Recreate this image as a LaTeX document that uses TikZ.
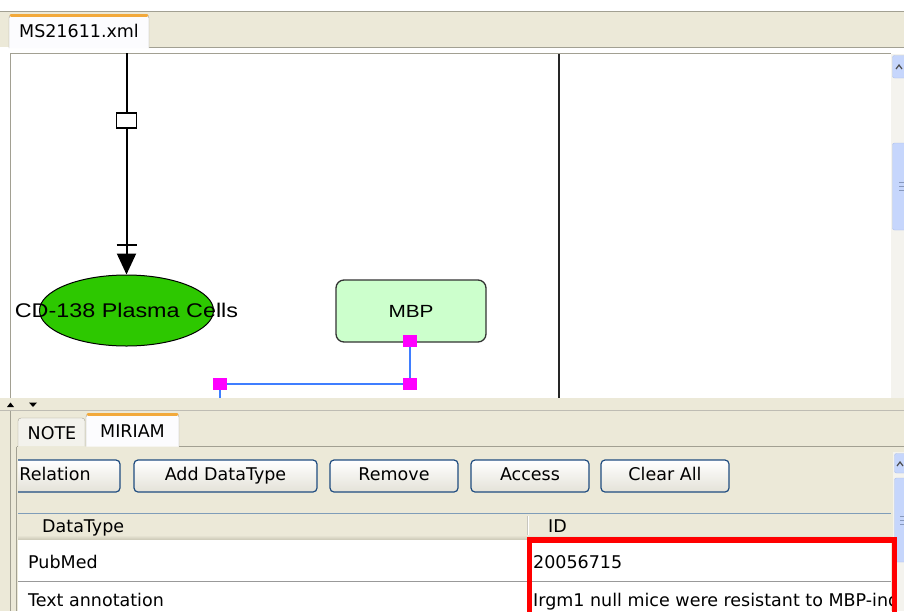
\documentclass[tikz,border=0pt]{standalone}
\usepackage{fontspec}
\setmainfont{DejaVu Sans}
\newfontfamily\diagfont[FakeStretch=1.18]{Liberation Sans}
\usetikzlibrary{arrows.meta}
\usetikzlibrary{calc,shapes.geometric}
\usetikzlibrary{positioning}
\definecolor{xpbeige}{HTML}{ECE9D8}
\definecolor{xpgray}{HTML}{A2A092}
\definecolor{xpborder}{HTML}{1F4C80}
\definecolor{tabtop}{HTML}{F2A93B}
\definecolor{tabwhite}{HTML}{FCFCFE}
\definecolor{tabgray}{HTML}{F3F2EC}
\definecolor{btnshade}{HTML}{E4E2D8}
\definecolor{headshade}{HTML}{C9C6B4}
\definecolor{cellgreen}{HTML}{2DC800}
\definecolor{mbpgreen}{HTML}{CCFFCC}
\definecolor{handlemag}{HTML}{FF00FF}
\definecolor{linkblue}{HTML}{3F7EFF}
\definecolor{scrollblue}{HTML}{C6D6FC}
\definecolor{scrolledge}{HTML}{A9BEEB}
\definecolor{track}{HTML}{F4F3EE}
\definecolor{gridline}{HTML}{7F9DB9}
\newcommand\uifont{\fontsize{17.5}{21}\selectfont}
\tikzset{>=latex}
\tikzset{
  uitext/.style={font=\uifont,inner sep=0pt,anchor=base west},
  tab/.style={draw=xpgray,fill=tabwhite,rounded corners=3pt},
  button/.style={draw=xpborder,line width=1.2pt,rounded corners=4pt,
                 top color=white,bottom color=btnshade,font=\uifont,
                 text height=12pt,text depth=3.5pt,minimum height=32pt,inner sep=0pt},
  scroll/.style={draw=scrolledge,fill=scrollblue,rounded corners=2pt},
  procbox/.style={draw,fill=white,line width=1.5pt,minimum width=20pt,
                  minimum height=15pt,inner sep=0pt},
  species/.style={ellipse,draw,fill=cellgreen,line width=1pt,
                  minimum width=174pt,minimum height=71pt,inner sep=0pt},
  specieslabel/.style={font=\diagfont\fontsize{19.8}{24}\selectfont,inner sep=0pt},
  protein/.style={draw=black!80,fill=mbpgreen,line width=1.3pt,rounded corners=8pt,
                  minimum width=150pt,minimum height=62pt,
                  font=\diagfont\fontsize{17.6}{21}\selectfont},
  handle/.style={fill=handlemag,minimum width=14pt,minimum height=12pt,inner sep=0pt},
  link/.style={linkblue,line width=1.6pt},
  reaction/.style={line width=2pt}
}

\begin{document}
\begin{tikzpicture}[x=1pt,y=-1pt]
  \useasboundingbox (0,0) rectangle (904,611);

  % WINDOW
  \fill[white] (0,0) rectangle (904,611);
  \fill[xpbeige] (0,11) rectangle (904,47);
  \draw[xpgray] (0,11.5) -- (904,11.5);
  \draw[xpgray] (149,47.5) -- (904,47.5);

  % EDITOR TAB
  \draw[tab] (9,48) |- (149,15) -- (149,48);
  \draw[tabtop,line width=3pt,line cap=round] (11,15.5) -- (147,15.5);
  \node[uitext,anchor=base] (xmltab) at (79,37) {MS21611.xml};

  % CANVAS
  \draw[xpgray] (10.5,398) |- (891,53.5);
  \draw[black!85,line width=2.2pt] (559,54) -- (559,398);
  \fill[track] (891,54) rectangle (904,398);
  \draw[scroll] (892.5,55.5) rectangle (910,78);
  \draw[scroll] (892.5,143) rectangle (910,230);
  \draw[black!70,line width=1.2pt] (896,69) -- (899,65) -- (902,69);
  \foreach \y in {182,186,190}
    \draw[scrolledge!80!black] (899,\y) -- (904,\y);

  % REACTION
  \coordinate (src) at (126.5,53);
  \node[procbox] (proc) at (126.5,120.5) {};
  \node[species] (cells) at (126.5,310.5) {};
  \node[specieslabel] (cellsname) at (cells.center) {CD-138 Plasma Cells};
  \draw[reaction] (src) -- (proc);
  \draw[reaction,-{Triangle[width=19pt,length=21pt]}] (proc) -- (cells);
  \draw[reaction] ($(cells.north)+(-10,-30)$) -- ++(20,0);

  % MBP AND ITS LINK
  \node[protein] (mbp) at (411,311) {MBP};
  \coordinate (ha) at (410,341);
  \coordinate (hb) at (410,384);
  \coordinate (hc) at (220,384);
  \coordinate (hd) at (220,400);
  \draw[link] (ha) -- (hb) -- (hc) -- (hd);
  \foreach \c in {ha,hb,hc}
    \node[handle] at (\c) {};

  % LOWER PANEL
  \fill[xpbeige] (0,398) rectangle (904,611);
  \fill (7,407) -- (14,407) -- (10.5,402.5) -- cycle;
  \fill (29,402.5) -- (37,402.5) -- (33,407) -- cycle;
  \draw[xpgray!70] (0,410.5) -- (904,410.5);
  \draw[xpgray] (10.5,411) -- (10.5,611);

  \draw[tab,fill=tabgray] (18,446) |- (85,418) -- (85,446);
  \node[uitext,anchor=base] (notetab) at (52,439) {NOTE};
  \draw[tab] (86,446.5) |- (179,414) -- (179,446.5);
  \draw[tabtop,line width=3pt,line cap=round] (88,414.5) -- (177,414.5);
  \node[uitext,anchor=base] (miriamtab) at (132.5,437) {MIRIAM};
  \draw[xpgray] (179,446.5) -- (904,446.5);
  \draw[xpgray] (16.5,446.5) -- (18,446.5);
  \draw[xpgray] (16.5,446.5) -- (16.5,611);

  % BUTTONS
  \begin{scope}
    \clip (18,450) rectangle (891,500);
    \node[button,minimum width=130pt] (relbtn)   at (55,476)    {Relation};
    \node[button,minimum width=183pt] (addbtn)   at (225.5,476) {Add DataType};
    \node[button,minimum width=128pt] (rembtn)   at (394,476)   {Remove};
    \node[button,minimum width=118pt] (accbtn)   at (530,476)   {Access};
    \node[button,minimum width=128pt] (clearbtn) at (665,476)   {Clear All};
  \end{scope}
  \fill[track] (893,452) rectangle (904,611);
  \draw[scroll] (894.5,453.5) rectangle (910,473);
  \draw[scroll] (894.5,478) rectangle (910,562);
  \draw[black!70,line width=1.2pt] (897,466) -- (900,462) -- (903,466);
  \foreach \y in {516,520,524}
    \draw[scrolledge!80!black] (900,\y) -- (904,\y);

  % TABLE
  \draw[gridline] (18,513.5) -- (891,513.5);
  \shade[top color=xpbeige,bottom color=headshade] (18,535) rectangle (891,540);
  \draw[xpgray!60] (527,516) -- (527,535);
  \draw[white] (528,516) -- (528,535);
  \node[uitext] (dthead) at (42,532) {DataType};
  \node[uitext] (idhead) at (548,532) {ID};
  \fill[white] (18,540) rectangle (891,611);
  \draw[gray!80] (18,581.5) -- (891,581.5);
  \node[uitext] (pubmed) at (28,568) {PubMed};
  \node[uitext] (pmid)   at (533,568) {20056715};
  \node[uitext] (txtann) at (28,606) {Text annotation};
  \begin{scope}
    \clip (528,582) rectangle (892,611);
    \node[uitext] (annot) at (533,606) {Irgm1 null mice were resistant to MBP-induced};
  \end{scope}
  \draw[red,line width=5.5pt] (529.5,540) rectangle (894.5,630);

\end{tikzpicture}
\end{document}
